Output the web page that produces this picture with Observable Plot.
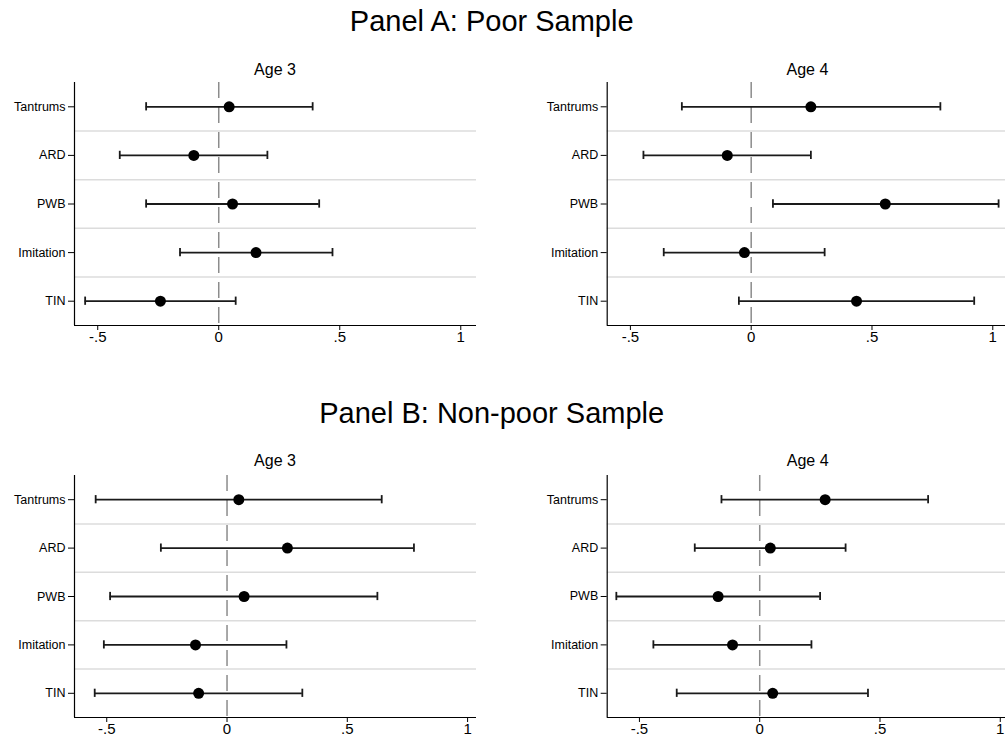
<!DOCTYPE html>
<html>
<head>
<meta charset="utf-8">
<script src="https://cdn.jsdelivr.net/npm/d3@7"></script>
<script src="https://cdn.jsdelivr.net/npm/@observablehq/plot@0.6"></script>
<style>
  html, body { margin: 0; padding: 0; background: #fff; overflow: hidden; }
  #wrap { position: relative; width: 1005px; height: 742px; overflow: hidden; background: #fff;
          font-family: "Liberation Sans", Arial, Helvetica, sans-serif; color: #000; }
  .ttl { position: absolute; white-space: nowrap; line-height: 1; transform: translateX(-50%); }
  .plot { position: absolute; }
</style>
</head>
<body>
<div id="wrap"></div>
<script>
// ---- Data ----
const categories = ["Tantrums", "ARD", "PWB", "Imitation", "TIN"];
const xTicks = [-0.5, 0, 0.5, 1];

const poorAge3Est = [0.043, -0.103, 0.057, 0.154, -0.241];
const poorAge3Lo  = [-0.300, -0.409, -0.300, -0.160, -0.552];
const poorAge3Hi  = [0.388, 0.201, 0.415, 0.470, 0.070];

const poorAge4Est = [0.247, -0.099, 0.555, -0.028, 0.436];
const poorAge4Lo  = [-0.287, -0.446, 0.090, -0.362, -0.051];
const poorAge4Hi  = [0.783, 0.247, 1.024, 0.304, 0.923];

const nonpoorAge3Est = [0.049, 0.251, 0.071, -0.131, -0.118];
const nonpoorAge3Lo  = [-0.546, -0.275, -0.486, -0.512, -0.550];
const nonpoorAge3Hi  = [0.643, 0.777, 0.625, 0.247, 0.313];

const nonpoorAge4Est = [0.272, 0.044, -0.173, -0.113, 0.054];
const nonpoorAge4Lo  = [-0.159, -0.270, -0.596, -0.442, -0.345];
const nonpoorAge4Hi  = [0.700, 0.357, 0.251, 0.215, 0.450];

const panelTitles = ["Panel A: Poor Sample", "Panel B: Non-poor Sample"];
const subTitles = ["Age 3", "Age 4"];

// ---- Helpers ----
const wrap = document.getElementById("wrap");
function title(text, cx, baseline, size) {
  const d = document.createElement("div");
  d.className = "ttl";
  d.textContent = text;
  d.style.fontSize = size + "px";
  d.style.left = cx + "px";
  d.style.top = (baseline - 0.8465 * size) + "px";
  wrap.appendChild(d);
}
const fmt = d => d === 0 ? "0" : String(d).replace("0.", ".");
const catSet = new Set(categories);

function panel(est, lo, hi, {left, top, width, marginLeft, marginRight, plotH, xDomain}) {
  const data = categories.map((c, i) => ({pos: i + 1, cat: c, est: est[i], lo: lo[i], hi: hi[i]}));
  const seps = categories.slice(1).map((c, i) => i + 1.5);
  const capHalf = 0.085;
  const p = Plot.plot({
    width, height: 10 + plotH + 30,
    marginTop: 10, marginBottom: 30, marginLeft, marginRight,
    style: {fontFamily: '"Liberation Sans", Arial, sans-serif', fontSize: "15px", background: "transparent", overflow: "visible"},
    x: {domain: xDomain, label: null},
    y: {domain: [categories.length + 0.5, 0.5], label: null},
    marks: [
      Plot.ruleY(seps, {stroke: "#dcdcdc", strokeWidth: 1.5}),
      Plot.ruleX([0], {stroke: "#8c8c8c", strokeWidth: 1.5, strokeDasharray: "16,9"}),
      Plot.ruleY(data, {y: "pos", x1: "lo", x2: "hi", stroke: "#1a1a1a", strokeWidth: 1.8}),
      Plot.ruleX(data, {x: "lo", y1: d => d.pos - capHalf, y2: d => d.pos + capHalf, stroke: "#1a1a1a", strokeWidth: 1.8}),
      Plot.ruleX(data, {x: "hi", y1: d => d.pos - capHalf, y2: d => d.pos + capHalf, stroke: "#1a1a1a", strokeWidth: 1.8}),
      Plot.dot(data, {x: "est", y: "pos", r: 5.5, fill: "#000", stroke: "none"}),
      Plot.ruleX([xDomain[0]], {stroke: "#000", strokeWidth: 1.2}),
      Plot.ruleY([categories.length + 0.5], {stroke: "#000", strokeWidth: 1.2}),
      Plot.axisX({ticks: xTicks, tickFormat: fmt, tickSize: 5, tickPadding: 1, stroke: "#000", label: null}),
      Plot.axisY({ticks: categories.map((c, i) => i + 1), tickFormat: i => categories[i - 1], tickSize: 6, tickPadding: 3, stroke: "#000", label: null})
    ]
  });
  // category labels smaller than the numeric tick labels
  d3.select(p).selectAll("text").filter(function() { return catSet.has(this.textContent.trim()); })
    .style("font-size", "12.5px");
  p.classList.add("plot");
  p.style.left = left + "px";
  p.style.top = top + "px";
  wrap.appendChild(p);
}

// ---- Panel A ----
title(panelTitles[0], 491.7, 31.7, 29);
title(subTitles[0], 275, 75.7, 16);
title(subTitles[1], 807.4, 75.7, 16);
const domA = [-0.596, 1.065];
panel(poorAge3Est, poorAge3Lo, poorAge3Hi, {left: 0, top: 72, width: 500, marginLeft: 74, marginRight: 24, plotH: 243, xDomain: domA});
panel(poorAge4Est, poorAge4Lo, poorAge4Hi, {left: 500, top: 72, width: 508, marginLeft: 106.7, marginRight: 0, plotH: 243, xDomain: domA});

// ---- Panel B ----
title(panelTitles[1], 491.7, 424, 29);
title(subTitles[0], 275, 466.7, 16);
title(subTitles[1], 807.7, 466.7, 16);
const domB = [-0.634, 1.037];
panel(nonpoorAge3Est, nonpoorAge3Lo, nonpoorAge3Hi, {left: 0, top: 465, width: 500, marginLeft: 74, marginRight: 24, plotH: 242, xDomain: domB});
panel(nonpoorAge4Est, nonpoorAge4Lo, nonpoorAge4Hi, {left: 500, top: 465, width: 508.7, marginLeft: 106.7, marginRight: 0, plotH: 242, xDomain: domB});
</script>
</body>
</html>
